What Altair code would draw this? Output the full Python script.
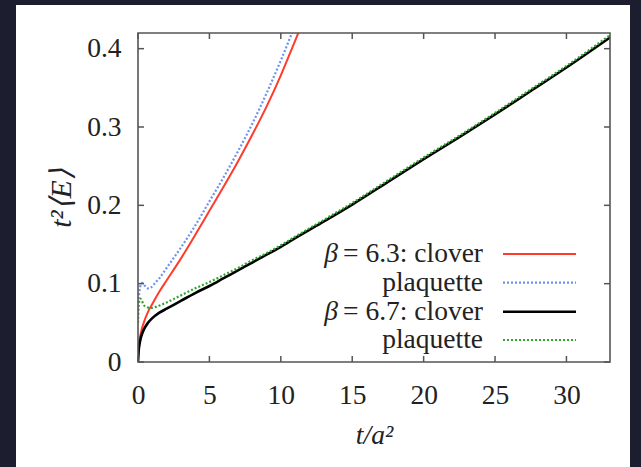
import altair as alt
import pandas as pd

# ---- data ----
# beta = 6.3, clover (red, solid)
t63c = [0, 0.05, 0.1, 0.2, 0.4, 0.7, 1.0, 1.5, 2, 3, 4, 5, 6, 7, 8, 9, 10, 11, 11.5]
e63c = [0, 0.018, 0.027, 0.037, 0.050, 0.064, 0.074, 0.090, 0.104, 0.132, 0.162,
        0.193, 0.224, 0.256, 0.290, 0.326, 0.366, 0.410, 0.432]
# beta = 6.3, plaquette (blue, dotted)
t63p = [0, 0.05, 0.1, 0.2, 0.3, 0.45, 0.7, 0.9, 1.2, 1.5, 2, 3, 4, 5, 6, 7, 8, 9, 10, 11]
e63p = [0.07, 0.082, 0.09, 0.099, 0.101, 0.098, 0.094, 0.095, 0.101, 0.107, 0.12,
        0.146, 0.174, 0.205, 0.236, 0.269, 0.304, 0.343, 0.385, 0.430]
# beta = 6.7, clover (black, solid)
t67c = [0, 0.05, 0.1, 0.2, 0.4, 0.7, 1.0, 1.5, 2, 3, 4, 5, 6, 7, 8, 9, 10, 11,
        12.5, 15, 17.5, 20, 22.5, 25, 27.5, 30, 33.1]
e67c = [0, 0.015, 0.022, 0.031, 0.041, 0.050, 0.056, 0.063, 0.068, 0.078, 0.088,
        0.097, 0.107, 0.117, 0.127, 0.137, 0.147, 0.158, 0.174, 0.201, 0.230,
        0.259, 0.287, 0.316, 0.346, 0.376, 0.415]
# beta = 6.7, plaquette (green, dotted)
t67p = [0, 0.03, 0.08, 0.15, 0.25, 0.4, 0.6, 0.9, 1.2, 1.5, 2, 3, 4, 5, 6, 7, 8, 9,
        10, 11, 12.5, 15, 17.5, 20, 22.5, 25, 27.5, 30, 33.1]
e67p = [0.05, 0.065, 0.077, 0.081, 0.079, 0.073, 0.070, 0.069, 0.070, 0.072, 0.076,
        0.085, 0.094, 0.102, 0.111, 0.120, 0.130, 0.139, 0.149, 0.160, 0.176,
        0.203, 0.232, 0.261, 0.289, 0.318, 0.348, 0.378, 0.418]

x_ticks = [0, 5, 10, 15, 20, 25, 30]
y_ticks = [0, 0.1, 0.2, 0.3, 0.4]

legend_beta = ["β", "", "β", ""]
legend_text = ["= 6.3: clover", "plaquette", "= 6.7: clover", "plaquette"]

# ---- styling ----
W, H = 472, 329
FONT = "'Liberation Serif', 'Times New Roman', Times, serif"
FS = 27.5
FRAME = "#555555"
TXT = "#222222"

styles = [
    dict(t=t63c, e=e63c, color="#ff3b2b", width=2.0, dash=None),
    dict(t=t63p, e=e63p, color="#6b93f0", width=2.2, dash=[2, 2]),
    dict(t=t67c, e=e67c, color="#000000", width=2.6, dash=None),
    dict(t=t67p, e=e67p, color="#2ea62e", width=2.2, dash=[2, 2]),
]

xs = alt.Scale(domain=[0, 33.05], nice=False, zero=False)
ys = alt.Scale(domain=[0, 0.42], nice=False, zero=False)

xaxis = alt.Axis(values=x_ticks, format="d", title="t/a²", grid=False, ticks=False,
                 tickSize=0, domain=False, labelPadding=19, labelFontSize=FS,
                 labelFont=FONT, labelColor=TXT, titleFont=FONT, titleFontSize=FS,
                 titleFontStyle="italic", titleFontWeight="normal", titleColor=TXT,
                 titleBaseline="alphabetic", titleY=81, labelFlush=False, zindex=2)
yaxis = alt.Axis(values=y_ticks, format=".1~f", title="t²⟨E⟩", grid=False, ticks=False,
                 tickSize=0, domain=False, labelPadding=17, labelFontSize=FS,
                 labelFont=FONT, labelColor=TXT, labelBaseline="middle",
                 titleFont=FONT, titleFontSize=30, titleFontStyle="italic",
                 titleFontWeight="normal", titleColor=TXT, titleAngle=270,
                 titleBaseline="alphabetic", titleX=-68, titleY=H / 2, labelFlush=False,
                 zindex=2)

one = pd.DataFrame({"a": [0]})

layers = []
# white panel behind the plot
layers.append(alt.Chart(one).mark_rect(color="white").encode(
    x=alt.value(-122), x2=alt.value(492), y=alt.value(-28), y2=alt.value(H + 120)))

for s in styles:
    df = pd.DataFrame({"t": s["t"], "e": s["e"]})
    kw = dict(color=s["color"], strokeWidth=s["width"], clip=True, interpolate="monotone")
    if s["dash"]:
        kw["strokeDash"] = s["dash"]
    layers.append(alt.Chart(df).mark_line(**kw).encode(
        x=alt.X("t:Q", scale=xs, axis=xaxis),
        y=alt.Y("e:Q", scale=ys, axis=yaxis)))

# inward ticks on all four sides
dx = pd.DataFrame({"v": x_ticks})
dy = pd.DataFrame({"v": y_ticks})
tick_kw = dict(color=FRAME, strokeWidth=1.5)
layers.append(alt.Chart(dx).mark_rule(**tick_kw).encode(
    x=alt.X("v:Q", scale=xs, axis=xaxis), y=alt.value(H), y2=alt.value(H - 6)))
layers.append(alt.Chart(dx).mark_rule(**tick_kw).encode(
    x=alt.X("v:Q", scale=xs, axis=xaxis), y=alt.value(0), y2=alt.value(6)))
layers.append(alt.Chart(dy).mark_rule(**tick_kw).encode(
    y=alt.Y("v:Q", scale=ys, axis=yaxis), x=alt.value(0), x2=alt.value(6)))
layers.append(alt.Chart(dy).mark_rule(**tick_kw).encode(
    y=alt.Y("v:Q", scale=ys, axis=yaxis), x=alt.value(W), x2=alt.value(W - 6)))

# frame
layers.append(alt.Chart(one).mark_rect(fill=None, stroke=FRAME, strokeWidth=1.6).encode(
    x=alt.value(0), x2=alt.value(W), y=alt.value(0), y2=alt.value(H)))

# legend (labels left of line samples)
row_y = [221, 249.7, 278.7, 307]
for i, s in enumerate(styles):
    yb = row_y[i] + 8
    layers.append(alt.Chart(one).mark_text(
        text=legend_text[i], font=FONT, fontSize=FS, color=TXT, align="right",
        baseline="alphabetic").encode(x=alt.value(345), y=alt.value(yb)))
    if legend_beta[i]:
        layers.append(alt.Chart(one).mark_text(
            text=legend_beta[i], font=FONT, fontSize=FS, fontStyle="italic", color=TXT,
            align="right", baseline="alphabetic").encode(x=alt.value(200), y=alt.value(yb)))
    kw = dict(color=s["color"], strokeWidth=s["width"])
    if s["dash"]:
        kw["strokeDash"] = s["dash"]
    layers.append(alt.Chart(one).mark_rule(**kw).encode(
        x=alt.value(365), x2=alt.value(438), y=alt.value(row_y[i])))

chart = alt.layer(*layers).properties(
    width=W, height=H,
    autosize=alt.AutoSizeParams(type="none"),
    padding={"left": 138, "top": 33, "right": 31, "bottom": 105},
    background="#1c1e30",
).configure_view(stroke=None)

chart.save("out.html", embed_options={"renderer": "svg", "actions": False})
